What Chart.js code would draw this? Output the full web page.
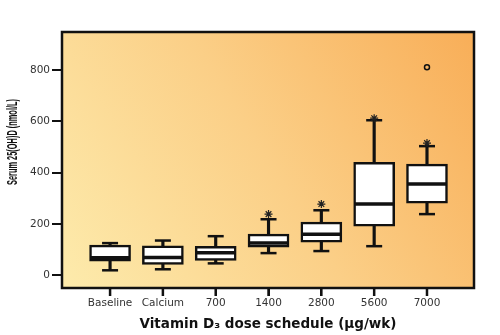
<!DOCTYPE html>
<html>
<head>
<meta charset="utf-8">
<script src="https://cdn.jsdelivr.net/npm/chart.js@4.4.1/dist/chart.umd.min.js"></script>
<style>
  html, body { margin: 0; padding: 0; background: #fff; }
  #wrap { width: 500px; height: 335px; position: relative; }
</style>
</head>
<body>
<div id="wrap"><canvas id="boxChart"></canvas></div>
<script>
const categories = ["Baseline", "Calcium", "700", "1400", "2800", "5600", "7000"];
const minVals = [19, 23, 46, 86, 94, 113, 238];
const q1Vals = [55, 42, 58, 109, 129, 191, 281];
const medVals = [68, 69, 87, 125, 160, 277, 355];
const q3Vals = [117, 114, 112, 160, 207, 440, 433];
const maxVals = [125, 135, 152, 218, 253, 604, 503];
// extreme values marked with an asterisk, and the one outlier circle
const starCats = [3, 4, 5, 6];
const starVals = [238, 277, 612, 515];
const outlierCats = [6];
const outlierVals = [811];
const yTicks = [0, 200, 400, 600, 800];
const yTitle = "Serum 25(OH)D (nmol/L)";
const xTitle = "Vitamin D\u2083 dose schedule (\u00b5g/wk)";

const points = function (cats, vals) {
  return cats.map((c, i) => ({ x: c, y: vals[i] }));
};

const plotFrame = {
  id: "plotFrame",
  beforeDatasetsDraw(chart) {
    const { ctx, chartArea: a } = chart;
    const g = ctx.createLinearGradient(a.left, a.bottom, a.right, a.top);
    g.addColorStop(0, "#fdebac");
    g.addColorStop(0.5, "#fbcf87");
    g.addColorStop(1, "#f8ae58");
    ctx.save();
    ctx.fillStyle = g;
    ctx.fillRect(a.left, a.top, a.right - a.left, a.bottom - a.top);
    ctx.restore();
  },
  afterDraw(chart) {
    const { ctx, chartArea: a } = chart;
    const xs = chart.scales.x;
    ctx.save();
    ctx.strokeStyle = "#111";
    ctx.lineWidth = 2.5;
    ctx.strokeRect(a.left, a.top, a.right - a.left, a.bottom - a.top);
    // category tick marks under the frame
    for (let i = 0; i < categories.length; i++) {
      const px = xs.getPixelForValue(i);
      ctx.beginPath();
      ctx.moveTo(px, a.bottom);
      ctx.lineTo(px, a.bottom + 8);
      ctx.stroke();
    }
    // y axis title, condensed like the original
    ctx.fillStyle = "#111";
    ctx.font = "bold 15px 'Liberation Sans', Arial, sans-serif";
    ctx.textAlign = "center";
    ctx.textBaseline = "middle";
    const w = ctx.measureText(yTitle).width;
    ctx.translate(13, 142);
    ctx.rotate(-Math.PI / 2);
    ctx.scale(86 / w, 1);
    ctx.fillText(yTitle, 0, 0);
    ctx.restore();
  },
};

new Chart(document.getElementById("boxChart"), {
  type: "bar",
  data: {
    datasets: [
      {
        label: "whisker",
        data: categories.map((c, i) => ({ x: i, y: [minVals[i], maxVals[i]] })),
        backgroundColor: "#111",
        borderWidth: 0,
        barThickness: 2.5,
        grouped: false,
        order: 5,
      },
      {
        label: "box",
        data: categories.map((c, i) => ({ x: i, y: [q1Vals[i], q3Vals[i]] })),
        backgroundColor: "#fff",
        borderColor: "#111",
        borderWidth: 2.5,
        borderSkipped: false,
        barThickness: 41,
        grouped: false,
        order: 4,
      },
      {
        type: "scatter",
        label: "median",
        data: points(categories.map((c, i) => i), medVals),
        pointStyle: "line",
        radius: 19.5,
        borderColor: "#111",
        borderWidth: 3.5,
        order: 3,
      },
      {
        type: "scatter",
        label: "caps",
        data: points(categories.map((c, i) => i), minVals).concat(
          points(categories.map((c, i) => i), maxVals)
        ),
        pointStyle: "line",
        radius: 8,
        borderColor: "#111",
        borderWidth: 2.5,
        order: 2,
      },
      {
        type: "scatter",
        label: "extreme",
        data: points(starCats, starVals),
        pointStyle: "star",
        radius: 4,
        borderColor: "#222",
        borderWidth: 1.2,
        order: 1,
      },
      {
        type: "scatter",
        label: "outlier",
        data: points(outlierCats, outlierVals),
        pointStyle: "circle",
        radius: 2.5,
        backgroundColor: "rgba(0,0,0,0)",
        borderColor: "#111",
        borderWidth: 1.5,
        order: 0,
      },
    ],
  },
  options: {
    responsive: true,
    maintainAspectRatio: false,
    animation: false,
    layout: { padding: { left: 0, top: 32, right: 26, bottom: 0 } },
    plugins: {
      legend: { display: false },
      tooltip: { enabled: false },
    },
    scales: {
      x: {
        type: "linear",
        min: -0.91,
        max: 6.89,
        offset: false,
        afterBuildTicks: (scale) => {
          scale.ticks = categories.map((c, i) => ({ value: i }));
        },
        afterFit: (scale) => {
          scale.height = 47;
        },
        ticks: {
          callback: (v) => categories[v],
          color: "#333",
          font: { family: "'DejaVu Sans'", size: 10.5 },
          padding: 1,
          maxRotation: 0,
          autoSkip: false,
        },
        grid: {
          offset: false,
          drawOnChartArea: false,
          drawTicks: true,
          tickLength: 8,
          color: "#111",
          lineWidth: 2,
        },
        border: { display: false },
        title: {
          display: true,
          text: xTitle,
          color: "#111",
          font: { family: "'DejaVu Sans'", size: 13.5, weight: "bold" },
          padding: { top: 2, bottom: 2 },
        },
      },
      y: {
        min: -50,
        max: 948,
        afterBuildTicks: (scale) => {
          scale.ticks = yTicks.map((v) => ({ value: v }));
        },
        afterFit: (scale) => {
          scale.width = 62;
        },
        ticks: {
          color: "#333",
          font: { family: "'DejaVu Sans'", size: 10.5 },
          padding: 2,
        },
        grid: {
          drawOnChartArea: false,
          drawTicks: true,
          tickLength: 10,
          color: "#111",
          lineWidth: 2,
        },
        border: { display: false },
      },
    },
  },
  plugins: [plotFrame],
});
</script>
</body>
</html>
